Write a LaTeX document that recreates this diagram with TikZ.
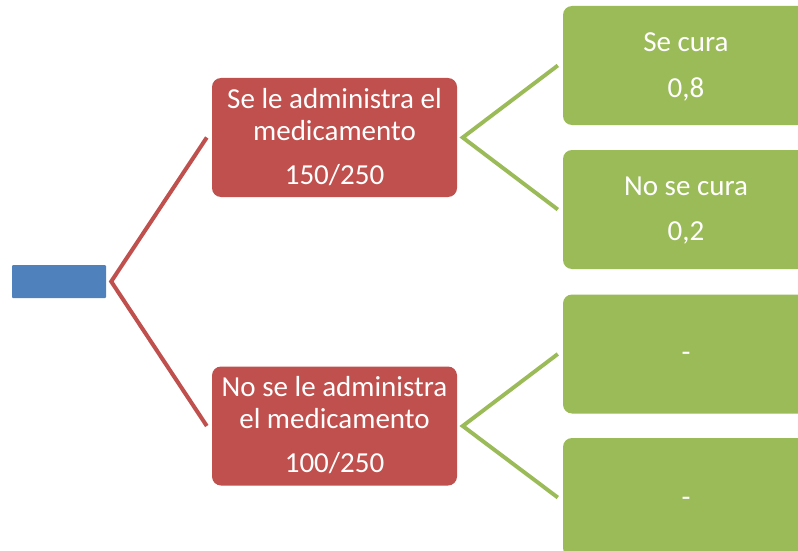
\documentclass[tikz,border=0pt]{standalone}
\usepackage{fontspec}
\setmainfont{Carlito}
\usetikzlibrary{calc}
\definecolor{rootblue}{HTML}{4F81BD}
\definecolor{boxred}{HTML}{C0504D}
\definecolor{boxgreen}{HTML}{9BBB59}
\tikzset{
  rootbox/.style={rectangle, fill=rootblue, draw=none, inner sep=0pt,
    minimum width=94pt, minimum height=33pt, rounded corners=1pt},
  redbox/.style={rectangle, fill=boxred, draw=none, inner sep=0pt,
    minimum width=245pt, minimum height=119pt, rounded corners=9pt},
  greenbox/.style={rectangle, fill=boxgreen, draw=none, inner sep=0pt,
    minimum width=246pt, minimum height=119pt, rounded corners=9pt},
  txt/.style={anchor=base, inner sep=0pt, text=white, font=\fontsize{29}{32}\selectfont},
  redline/.style={draw=boxred, line width=4pt, line join=miter},
  greenline/.style={draw=boxgreen, line width=3.9pt, line join=miter}
}
\begin{document}
\begin{tikzpicture}[x=1pt,y=-1pt]
\useasboundingbox (0,0) rectangle (798,551);
\fill[white] (0,0) rectangle (798,551);

% boxes
\node[rootbox] (root) at (59,281.5) {};
\node[redbox] (r1) at (334.5,137.5) {};
\node[redbox] (r2) at (334.5,426) {};
\node[greenbox] (g1) at (686,65.5) {};
\node[greenbox] (g2) at (686,209.5) {};
\node[greenbox] (g3) at (686,354) {};
\node[greenbox] (g4) at (686,497.5) {};

% connectors
\coordinate (rootapex) at ($(root.east)+(5,0)$);
\coordinate (r1apex) at ($(r1.east)+(5.5,0)$);
\coordinate (r2apex) at ($(r2.east)+(5.5,0)$);
\draw[redline] ($(r1.west)+(-5,0)$) -- (rootapex) -- ($(r2.west)+(-5,0)$);
\draw[greenline] ($(g1.west)+(-5,0)$) -- (r1apex) -- ($(g2.west)+(-5,0)$);
\draw[greenline] ($(g3.west)+(-5,0)$) -- (r2apex) -- ($(g4.west)+(-5,0)$);

% texts
\node[txt] (r1a) at ($(r1.center)+(0,-29.5)$) {Se le administra el};
\node[txt] (r1b) at ($(r1.center)+(0,2.5)$) {medicamento};
\node[txt] (r1c) at ($(r1.center)+(0,46.5)$) {150/250};

\node[txt] (r2a) at ($(r2.center)+(0,-30)$) {No se le administra};
\node[txt] (r2b) at ($(r2.center)+(0,2)$) {el medicamento};
\node[txt] (r2c) at ($(r2.center)+(0,46)$) {100/250};

\node[txt] (g1a) at ($(g1.center)+(0,-13.5)$) {Se cura};
\node[txt] (g1b) at ($(g1.center)+(0,31.5)$) {0,8};
\node[txt] (g2a) at ($(g2.center)+(0,-14.5)$) {No se cura};
\node[txt] (g2b) at ($(g2.center)+(0,30.5)$) {0,2};
\node[txt] (g3a) at ($(g3.center)+(0,7.5)$) {-};
\node[txt] (g4a) at ($(g4.center)+(0,8.5)$) {-};
\end{tikzpicture}
\end{document}
